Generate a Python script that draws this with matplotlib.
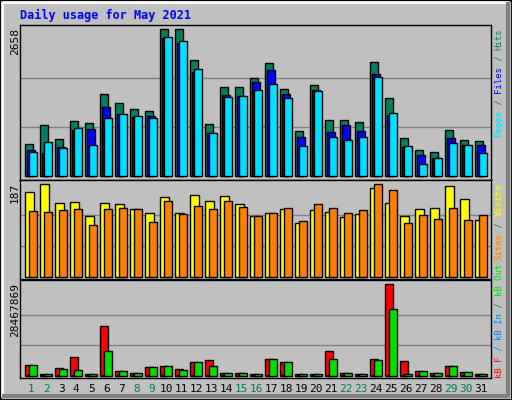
import matplotlib
matplotlib.use("Agg")
import matplotlib.pyplot as plt
from matplotlib.patches import Rectangle
import numpy as np

days = list(range(1, 32))
weekend = [1, 2, 8, 9, 15, 16, 22, 23, 29, 30]
hits = [579, 922, 669, 995, 959, 1483, 1320, 1212, 1176, 2658, 2658, 2098, 941, 1610, 1610, 1773,
        2044, 1574, 814, 1646, 1013, 1013, 977, 2062, 1411, 687, 470, 434, 832, 651, 633]
files = [470, 415, 524, 832, 850, 1248, 1121, 1067, 1085, 2496, 2406, 1881, 778, 1465, 1447, 1700,
         1917, 1483, 705, 1556, 796, 922, 814, 1845, 1103, 524, 380, 326, 687, 561, 561]
pages = [434, 616, 506, 868, 567, 1049, 1121, 1085, 1049, 2514, 2442, 1936, 778, 1429, 1447, 1556,
         1664, 1411, 543, 1538, 705, 651, 705, 1791, 1140, 542, 217, 326, 597, 561, 416]
visits = [171, 187, 149, 151, 122, 149, 147, 136, 128, 161, 128, 165, 153, 163, 147, 122,
          128, 136, 108, 134, 130, 120, 126, 179, 149, 122, 138, 140, 183, 157, 114]
sites = [132, 130, 134, 136, 104, 136, 140, 136, 110, 153, 126, 144, 138, 153, 142, 122,
         128, 140, 112, 147, 140, 128, 134, 187, 175, 108, 124, 116, 140, 114, 124]
KBMAX = 28467869
kbf_frac = [0.113, 0.015, 0.08, 0.20, 0.015, 0.54, 0.047, 0.026, 0.091, 0.102, 0.069, 0.146, 0.168,
            0.026, 0.026, 0.015, 0.179, 0.146, 0.015, 0.015, 0.266, 0.026, 0.015, 0.179, 1.0, 0.157,
            0.047, 0.026, 0.102, 0.036, 0.015]
kbo_frac = [0.113, 0.015, 0.069, 0.058, 0.015, 0.266, 0.047, 0.026, 0.091, 0.102, 0.058, 0.146, 0.102,
            0.026, 0.026, 0.015, 0.179, 0.146, 0.015, 0.015, 0.179, 0.026, 0.015, 0.168, 0.726, 0.015,
            0.047, 0.026, 0.102, 0.036, 0.015]
kbi_frac = [0.01] * 31
kbf = [f * KBMAX for f in kbf_frac]
kbo = [f * KBMAX for f in kbo_frac]
kbi = [f * KBMAX for f in kbi_frac]

GREY = "#C0C0C0"
W, H = 512, 400
fig = plt.figure(figsize=(W / 100, H / 100), dpi=100, facecolor=GREY)
mono = "DejaVu Sans Mono"

def px_axes(x0, y0, x1, y1):
    ax = fig.add_axes([x0 / W, 1 - y1 / H, (x1 - x0) / W, (y1 - y0) / H])
    ax.set_facecolor(GREY)
    ax.set_xticks([]); ax.set_yticks([])
    for s in ax.spines.values():
        s.set_color("black"); s.set_linewidth(1)
    ax.set_xlim(0.647, 32.05)
    return ax

d = np.array(days, dtype=float)
ek = dict(edgecolor="black", linewidth=1, align="edge")

ax1 = px_axes(20, 25, 491, 180)
m1 = max(hits)
ax1.set_ylim(-4 / 147 * m1, 151 / 147 * m1)
for g in (m1 / 3, 2 * m1 / 3):
    ax1.axhline(g, color="#808080", lw=1, zorder=0)
ax1.bar(d, hits, width=0.5, color="#008060", **ek)
ax1.bar(d + 0.133, files, width=0.5, color="#0000FF", **ek)
ax1.bar(d + 0.267, pages, width=0.5, color="#00E0FF", **ek)

ax2 = px_axes(20, 180, 491, 279)
m2 = max(visits + sites)
ax2.set_ylim(-2.3 / 92.4 * m2, 96.7 / 92.4 * m2)
for g in (m2 / 3, 2 * m2 / 3):
    ax2.axhline(g, color="#808080", lw=1, zorder=0)
ax2.bar(d, visits, width=0.56, color="#FFFF00", **ek)
ax2.bar(d + 0.22, sites, width=0.56, color="#FF8000", **ek)

ax3 = px_axes(20, 280, 491, 378)
ax3.set_ylim(-2.3 / 91.4 * KBMAX, 95.7 / 91.4 * KBMAX)
for g in (KBMAX / 3, 2 * KBMAX / 3):
    ax3.axhline(g, color="#808080", lw=1, zorder=0)
ax3.bar(d, kbf, width=0.5, color="#FF0000", **ek)
ax3.bar(d + 0.133, kbi, width=0.2, color="#0080FF", **ek)
ax3.bar(d + 0.267, kbo, width=0.5, color="#00E000", **ek)

for i in days:
    fig.text((20 + (i - 0.647 + 0.4) * 15) / W, 1 - 389 / H, str(i), ha="center", va="center",
             fontsize=8, family=mono, color="#008040" if i in weekend else "black")

fig.text(20 / W, 1 - 15 / H, "Daily usage for May 2021", fontsize=8.5, family=mono,
         fontweight="bold", color="#0000FF", va="center")
fig.text(15 / W, 1 - 28 / H, str(max(hits)), rotation=90, ha="center", va="top", fontsize=8, family=mono)
fig.text(15 / W, 1 - 183 / H, str(max(visits + sites)), rotation=90, ha="center", va="top", fontsize=8, family=mono)
fig.text(15 / W, 1 - 283 / H, str(KBMAX), rotation=90, ha="center", va="top", fontsize=8, family=mono)

def side(parts, ybottom):
    y = ybottom
    for txt, col in parts:
        fig.text(499 / W, 1 - y / H, txt, rotation=90, ha="center", va="bottom",
                 fontsize=6.5, family=mono, color=col)
        y -= len(txt) * 5.44
side([("Pages", "#00E0FF"), (" / ", "#008060"), ("Files", "#0000FF"), (" / ", "#008060"), ("Hits", "#008060")], 137)
side([("Sites", "#FF8000"), (" / ", "#008060"), ("Visits", "#FFFF00")], 260)
side([("kB F", "#FF0000"), (" / ", "#0080FF"), ("kB In", "#0080FF"), (" / ", "#008060"), ("kB Out", "#00E000")], 378)

fig.patches.append(Rectangle((0, 0), 1, 1, transform=fig.transFigure, fill=False, edgecolor="black", lw=2))
fig.add_artist(plt.Line2D([2 / W, 2 / W, 1 - 4 / W], [4 / H, 1 - 2 / H, 1 - 2 / H], transform=fig.transFigure, color="white", lw=2))
fig.add_artist(plt.Line2D([4 / W, 1 - 4 / W, 1 - 4 / W], [4 / H, 4 / H, 1 - 4 / H], transform=fig.transFigure, color="#808080", lw=3))

fig.savefig("out.png", dpi=100, facecolor=GREY)
